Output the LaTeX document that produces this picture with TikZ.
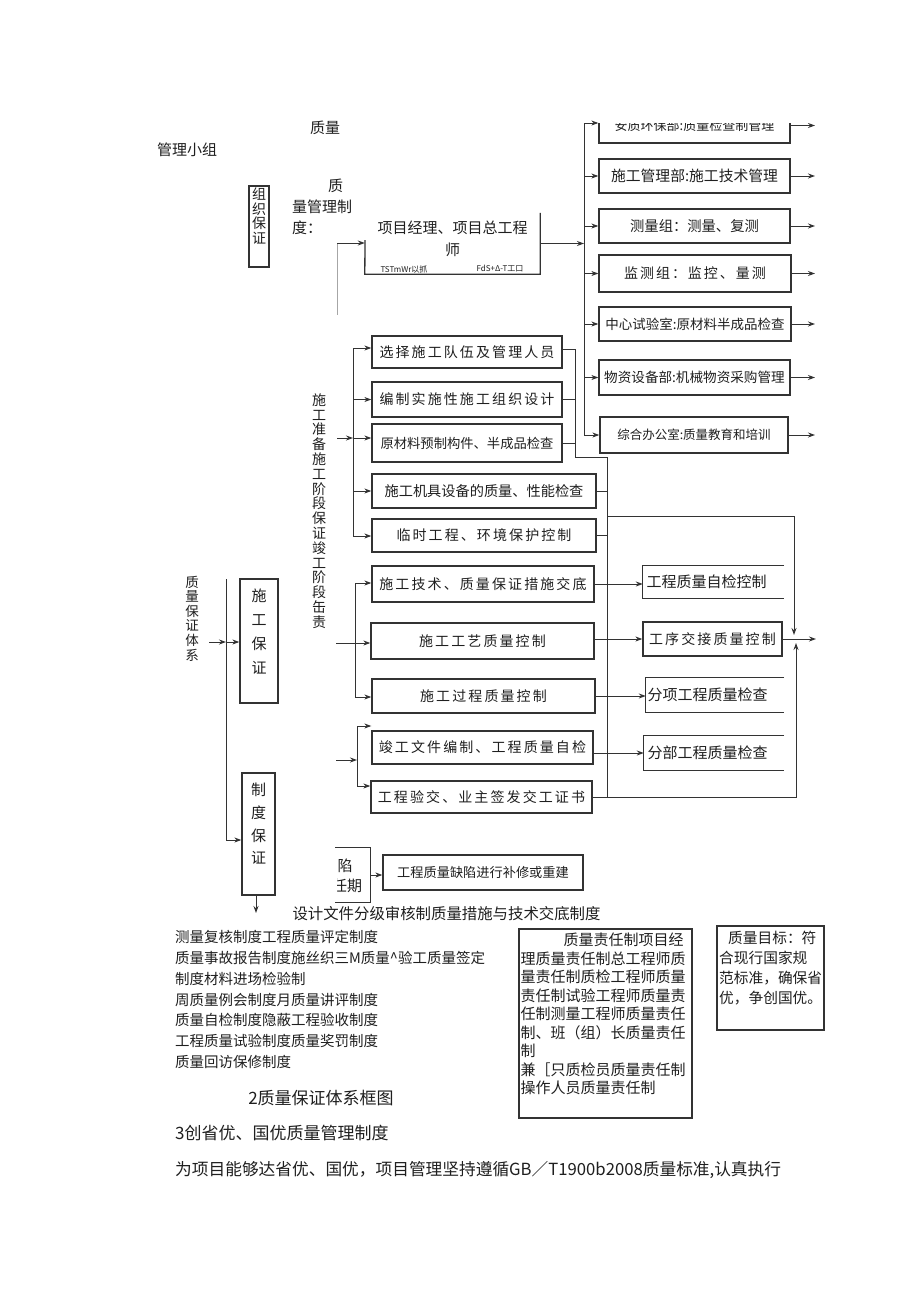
\documentclass[tikz,border=0pt]{standalone}
\usepackage{fontspec}
\setmainfont{Noto Sans CJK SC}
\usetikzlibrary{positioning, arrows.meta}
\definecolor{lc}{HTML}{333333}
\definecolor{tc}{HTML}{1F1F1F}
\newcommand\fz[1]{\fontsize{#1}{#1}\selectfont}
\newcommand\fzl[2]{\fontsize{#1}{#2}\selectfont}
\newcommand\ls[1]{\addfontfeature{LetterSpace=#1}}

\begin{document}
\begin{tikzpicture}[x=1pt, y=-1pt,
    box/.style={draw=lc, line width=1.3pt, inner sep=0pt, text=tc},
    txt/.style={inner sep=0pt, text=tc},
    vtxt/.style={txt, align=center},
    ln/.style={draw=lc, line width=1pt},
    arr/.style={draw=lc, line width=1pt, -{Stealth[length=7pt,width=5pt]}}]
\fill[white] (0,0) rectangle (920,1301);
\useasboundingbox (0,0) rectangle (920,1301);

% organisation
\node[txt, font=\fz{15}] (zl) at (325,128) {质量};
\node[txt, font=\fz{15}] (glxz) at (187,150) {管理小组};
\node[box, minimum width=20pt, minimum height=81pt] (zzbz) at (259,226.5) {};
\node[vtxt, font=\fzl{14}{14.5}] (zzbzt) at (259,216) {组\\织\\保\\证};
\node[txt, align=left, anchor=west, font=\fzl{15}{21}] (zlgl) at (292,207) {\hspace*{36pt}质\\量管理制\\度：};

\node[txt, minimum width=175pt, minimum height=61pt] (pm) at (452.5,243.5) {};
\node[vtxt, font=\fzl{15}{22}] (pmt) at (452.5,239) {项目经理、项目总工程\\师};
\node[txt, font=\fz{8}] (pml) at (404,269) {TSTmWr以抓};
\node[txt, font=\fz{8}] (pmr) at (500,269) {FdS+Δ-T工口};
\coordinate (pmtl) at (365,240);
\draw[ln, line width=1.3pt] (pm.north east) -- (pm.south east) -- (pm.south west) -- (pmtl);

\coordinate (ob1) at (337,243);
\coordinate (ob2) at (337,315);
\draw[draw=gray!70, line width=0.6pt] (ob1) -- (ob2);
\draw[arr] (ob1) -- (pm.west |- ob1);

\begin{scope}
  \clip (560,123) rectangle (840,150);
  \node[box, minimum width=191pt, minimum height=35pt, font=\fz{13}] (r0) at (694.5,125.5) {安质环保部:质量检查制管理};
  \draw[arr] (r0.east) -- (815,125.5);
\end{scope}
\node[box, minimum width=191pt, minimum height=34pt, font=\fz{14.8}] (r1) at (694.5,176) {施工管理部:施工技术管理};
\node[box, minimum width=191pt, minimum height=34pt, font=\fz{14.3}] (r2) at (694.5,226) {测量组：测量、复测};
\node[box, minimum width=192pt, minimum height=37pt, font=\fz{14}\ls{14}] (r3) at (695,273.5) {监测组：监控、量测};
\node[box, minimum width=192pt, minimum height=34pt, font=\fz{13.5}] (r4) at (695,324) {中心试验室:原材料半成品检查};
\node[box, minimum width=191pt, minimum height=35pt, font=\fz{13.6}] (r5) at (694.5,377.5) {物资设备部:机械物资采购管理};
\node[box, minimum width=188pt, minimum height=36pt, font=\fz{12.5}] (r6) at (694,435) {综合办公室:质量教育和培训};

\coordinate (rb) at (584,123);
\coordinate (rout) at (815,0);
\draw[arr] (pm.east) -- (rb |- pm.east);
\draw[ln] (rb) -- (rb |- r6.west);
\draw[arr] (rb) -- (r0.west |- rb);
\draw[arr] (rb |- r1.west) -- (r1.west);
\draw[arr] (rb |- r2.west) -- (r2.west);
\draw[arr] (rb |- r3.west) -- (r3.west);
\draw[arr] (rb |- r4.west) -- (r4.west);
\draw[arr] (rb |- r5.west) -- (r5.west);
\draw[arr] (rb |- r6.west) -- (r6.west);
\draw[arr] (r1.east) -- (rout |- r1.east);
\draw[arr] (r2.east) -- (rout |- r2.east);
\draw[arr] (r3.east) -- (rout |- r3.east);
\draw[arr] (r4.east) -- (rout |- r4.east);
\draw[arr] (r5.east) -- (rout |- r5.east);
\draw[arr] (r6.east) -- (rout |- r6.east);

% stages
\node[vtxt, font=\fzl{14}{14.8}] (sgjd) at (319,511) {施\\工\\准\\备\\施\\工\\阶\\段\\保\\证\\竣\\工\\阶\\段\\缶\\责};

\node[box, minimum width=190pt, minimum height=32pt, font=\fz{14}\ls{15}] (p1) at (467,352) {选择施工队伍及管理人员};
\node[box, minimum width=190pt, minimum height=35pt, font=\fz{14}\ls{15}] (p2) at (467,399.5) {编制实施性施工组织设计};
\node[box, minimum width=190pt, minimum height=38pt, font=\fz{13.3}] (p3) at (467,443) {原材料预制构件、半成品检查};
\node[box, minimum width=224pt, minimum height=34pt, font=\fz{14.2}] (p4) at (484,491) {施工机具设备的质量、性能检查};
\node[box, minimum width=224pt, minimum height=33pt, font=\fz{14}\ls{15}] (p5) at (484,535.5) {临时工程、环境保护控制};

\coordinate (pb0) at (353,348);
\coordinate (pb1) at (353,536);
\coordinate (pin) at (337,438);
\draw[ln] (pb0) -- (pb1);
\draw[arr] (pin) -- (pb0 |- pin);
\draw[arr] (pb0) -- (p1.west |- pb0);
\draw[arr] (pb0 |- p2.west) -- (p2.west);
\draw[arr] (pb0 |- pin) -- (p3.west |- pin);
\draw[arr] (pb0 |- p4.west) -- (p4.west);
\draw[arr] (pb1) -- (p5.west |- pb1);

\coordinate (qa) at (575,349);
\coordinate (qb) at (607,457);
\coordinate (qc) at (607,797);
\draw[ln] (p1.east |- qa) -- (qa) -- (qa |- qb) -- (qb) -- (qc);
\draw[ln] (p2.east) -- (qa |- p2.east);
\draw[ln] (p3.east) -- (qa |- p3.east);
\draw[ln] (p4.east) -- (qb |- p4.east);
\draw[ln] (p5.east) -- (qb |- p5.east);

\node[box, minimum width=222pt, minimum height=36pt, font=\fz{14}\ls{15}] (c1) at (483,584) {施工技术、质量保证措施交底};
\node[box, minimum width=223pt, minimum height=36pt, font=\fz{14}\ls{15}] (c2) at (482.5,641) {施工工艺质量控制};
\node[box, minimum width=223pt, minimum height=34pt, font=\fz{14}\ls{15}] (c3) at (483.5,696) {施工过程质量控制};
\node[box, minimum width=221pt, minimum height=33pt, font=\fz{14}\ls{15}] (c4) at (482.5,747.5) {竣工文件编制、工程质量自检};
\node[box, minimum width=221pt, minimum height=32pt, font=\fz{14}\ls{15}] (c5) at (481.5,797) {工程验交、业主签发交工证书};

\coordinate (cb0) at (355,583);
\coordinate (cb1) at (355,697);
\coordinate (cin) at (336,643);
\draw[ln] (cb0) -- (cb1);
\draw[arr] (cin) -- (c2.west |- cin);
\draw[arr] (cb0) -- (c1.west |- cb0);
\draw[arr] (cb1) -- (c3.west |- cb1);

\coordinate (db0) at (357,726);
\coordinate (db1) at (357,786);
\coordinate (din) at (336,760);
\draw[ln] (db0) -- (db1);
\draw[arr] (din) -- (db0 |- din);
\draw[arr] (db0) -- (c4.west |- db0);
\draw[arr] (db1) -- (c5.west |- db1);

% checks
\node[txt, minimum width=141pt, minimum height=32pt, text width=134pt, align=left, font=\fz{15}] (k1) at (713.5,582) {工程质量自检控制};
\node[box, minimum width=139pt, minimum height=34pt, font=\fz{14}\ls{15}] (k2) at (712.5,639) {工序交接质量控制};
\node[txt, minimum width=138pt, minimum height=34pt, text width=135pt, align=left, font=\fz{15}] (k3) at (715,695) {分项工程质量检查};
\node[txt, minimum width=140pt, minimum height=34pt, text width=133pt, align=left, font=\fz{15}] (k4) at (714,753) {分部工程质量检查};
\draw[ln, line width=1.3pt] (k1.north east) -- (k1.north west) -- (k1.south west) -- (k1.south east);
\draw[ln, line width=1.3pt] (k3.north east) -- (k3.north west) -- (k3.south west) -- (k3.south east);
\draw[ln, line width=1.3pt] (k4.north east) -- (k4.north west) -- (k4.south west) -- (k4.south east);

\draw[arr] (c1.east) -- (k1.west |- c1.east);
\draw[arr] (c2.east |- k2.west) -- (k2.west);
\draw[arr] (c3.east) -- (k3.west |- c3.east);
\draw[arr] (c4.east |- k4.west) -- (k4.west);

\coordinate (fa) at (607,516);
\coordinate (fb) at (794,516);
\coordinate (fc) at (794,635);
\coordinate (fd) at (796,797);
\coordinate (fe) at (796,643);
\coordinate (kout) at (816,639);
\draw[arr] (fa) -- (fb) -- (fc);
\draw[arr] (c5.east) -- (fd) -- (fe);
\draw[arr] (k2.east) -- (kout);

% left column
\node[vtxt, font=\fzl{13.5}{14.6}] (zlbz) at (192,618.5) {质\\量\\保\\证\\体\\系};
\node[box, minimum width=38pt, minimum height=124pt] (sgbz) at (259,641) {};
\node[vtxt, font=\fzl{15}{24}] (sgbzt) at (259,631.5) {施\\工\\保\\证};
\node[box, minimum width=33pt, minimum height=122pt] (zdbz) at (258.5,834) {};
\node[vtxt, font=\fzl{15}{22.7}] (zdbzt) at (258.5,824) {制\\度\\保\\证};

\coordinate (lb0) at (226,579);
\coordinate (lb1) at (226,840);
\coordinate (lin) at (209,642);
\coordinate (zdo) at (256,913);
\draw[ln] (lb0) -- (lb1);
\draw[arr] (lin) -- (lb0 |- lin);
\draw[arr] (lb0 |- lin) -- (sgbz.west |- lin);
\draw[arr] (lb1) -- (zdbz.west |- lb1);
\draw[arr] (zdo |- zdbz.south) -- (zdo);

% defects
\node[txt, minimum width=70pt, minimum height=54pt] (qxq) at (335,875) {};
\draw[ln, line width=1.3pt] (qxq.north) -- (qxq.north east) -- (qxq.south east) -- (qxq.south);
\node[txt, font=\fz{15}] (qxqa) at (345,866) {陷};
\begin{scope}
  \clip (337,876) rectangle (372,900);
  \node[txt, font=\fz{15}] (qxqb) at (347,886) {任期};
\end{scope}
\node[box, minimum width=200pt, minimum height=35pt, font=\fz{13.2}] (bx) at (483,872.5) {工程质量缺陷进行补修或重建};
\draw[arr] (qxq.east) -- (bx.west |- qxq.east);

% texts below
\node[txt, font=\fz{15.4}] (sjwj) at (446.5,914) {设计文件分级审核制质量措施与技术交底制度};
\node[txt, anchor=west, align=left, font=\fzl{14.5}{20.8}] (zdlb) at (175,999.5) {测量复核制度工程质量评定制度\\质量事故报告制度施丝织三M质量\textasciicircum 验工质量签定\\制度材料进场检验制\\周质量例会制度月质量讲评制度\\质量自检制度隐蔽工程验收制度\\工程质量试验制度质量奖罚制度\\质量回访保修制度};

\node[box, minimum width=173pt, minimum height=189pt] (zrz) at (605.5,1023.5) {};
\node[txt, anchor=north west, align=left, font=\fzl{15}{18.5}] (zrzt) at (520.5,933) {\hspace*{43pt}质量责任制项目经\\理质量责任制总工程师质\\量责任制质检工程师质量\\责任制试验工程师质量责\\任制测量工程师质量责任\\制、班（组）长质量责任\\制\\兼［只质检员质量责任制\\操作人员质量责任制};

\node[box, minimum width=107pt, minimum height=104pt] (zlmb) at (770.5,978) {};
\node[txt, anchor=north west, align=left, font=\fzl{14.7}{20}] (zlmbt) at (719,931) {\hspace*{9pt}质量目标：符\\合现行国家规\\范标准，确保省\\优，争创国优。};

\node[txt, font=\fz{17}] (ktt) at (321,1098) {2质量保证体系框图};
\node[txt, anchor=west, font=\fz{17}] (cszd) at (175,1133) {3创省优、国优质量管理制度};
\node[txt, anchor=west, font=\fz{16.7}] (wxm) at (175,1170) {为项目能够达省优、国优，项目管理坚持遵循GB／T1900b2008质量标准,认真执行};
\end{tikzpicture}
\end{document}
